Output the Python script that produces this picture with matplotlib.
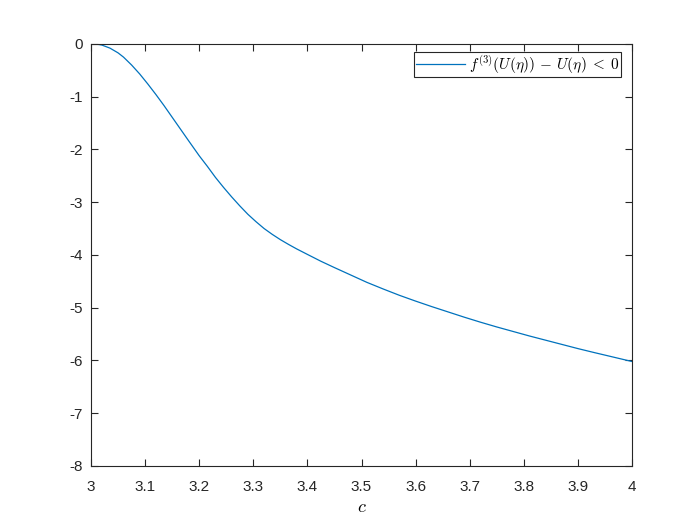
import matplotlib
matplotlib.use('Agg')
import matplotlib.pyplot as plt

# --- data ---
c_vals = [3.00, 3.01, 3.02, 3.035, 3.05, 3.06, 3.075, 3.09, 3.105, 3.12, 3.135,
          3.15, 3.165, 3.18, 3.20, 3.215, 3.23, 3.245, 3.26, 3.275, 3.29, 3.305,
          3.32, 3.335, 3.35, 3.365, 3.38, 3.40, 3.425, 3.45, 3.48, 3.51, 3.54,
          3.57, 3.60, 3.63, 3.66, 3.69, 3.72, 3.75, 3.78, 3.81, 3.84, 3.87,
          3.90, 3.93, 3.965, 4.00]
f_vals = [0.0, -0.004, -0.022, -0.08, -0.17, -0.25, -0.40, -0.57, -0.76, -0.96, -1.17,
          -1.39, -1.61, -1.83, -2.12, -2.32, -2.53, -2.72, -2.90, -3.07, -3.23, -3.37,
          -3.50, -3.61, -3.71, -3.80, -3.885, -3.99, -4.12, -4.24, -4.38, -4.52, -4.645,
          -4.765, -4.875, -4.98, -5.08, -5.18, -5.275, -5.365, -5.45, -5.535, -5.615, -5.695,
          -5.775, -5.85, -5.935, -6.02]
legend_label = r'$f^{(3)}(U(\eta))\,-\,U(\eta)\;<\;0$'
x_ticks = [3.0, 3.1, 3.2, 3.3, 3.4, 3.5, 3.6, 3.7, 3.8, 3.9, 4.0]
x_ticklabels = ['3', '3.1', '3.2', '3.3', '3.4', '3.5', '3.6', '3.7', '3.8', '3.9', '4']
y_ticks = [-8, -7, -6, -5, -4, -3, -2, -1, 0]

plt.rcParams['font.family'] = ['Liberation Sans', 'DejaVu Sans']
plt.rcParams['mathtext.fontset'] = 'cm'
plt.rcParams['axes.unicode_minus'] = False

fig = plt.figure(figsize=(7, 5.25), dpi=100)
ax = fig.add_axes([0.13, 0.1124, 0.7729, 0.804])

ax.plot(c_vals, f_vals, color='#0072BD', lw=0.9, label=legend_label)

ax.set_xlim(3, 4)
ax.set_ylim(-8, 0)
ax.set_xticks(x_ticks)
ax.set_xticklabels(x_ticklabels)
ax.set_yticks(y_ticks)
ax.set_yticklabels([str(v) for v in y_ticks])

for s in ax.spines.values():
    s.set_color('#262626')
    s.set_linewidth(0.8)
ax.tick_params(direction='in', length=5, width=0.8, color='#262626',
               top=True, right=True, labelsize=11, labelcolor='#262626')
ax.tick_params(axis='x', pad=10)
ax.tick_params(axis='y', pad=6)

ax.set_xlabel(r'$c$', fontsize=13, labelpad=4)

leg = ax.legend(loc='upper right', fontsize=11, fancybox=False, framealpha=1,
                edgecolor='#262626', handlelength=3.2, handletextpad=0.25,
                borderpad=0.1, borderaxespad=0,
                bbox_to_anchor=(0.98, 0.981))
leg.get_frame().set_linewidth(0.8)

fig.savefig('out.png', dpi=100)
